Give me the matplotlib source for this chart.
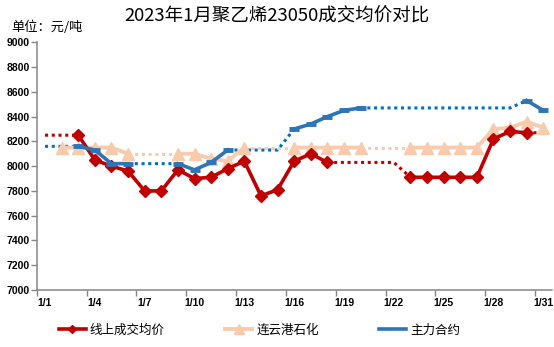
import matplotlib
matplotlib.use('Agg')
import matplotlib.pyplot as plt
import numpy as np

nan = np.nan

days = list(range(1, 32))
day_labels = ['1/%d' % d for d in days]

# 线上成交均价 (solid, markers) and its dotted gap fill
red_vals = [nan, nan, 8250, 8050, 8000, 7960, 7800, 7800, 7970, 7900,
            7910, 7980, 8040, 7760, 7810, 8040, 8100, 8030, nan, nan,
            nan, nan, 7910, 7910, 7910, 7910, 7910, 8220, 8280, 8270, nan]
red_gap = [8250, 8250, 8250, nan, nan, nan, nan, nan, nan, nan,
           nan, nan, nan, nan, nan, nan, nan, 8030, 8030, 8030,
           8030, 8030, 7910, nan, nan, nan, nan, nan, nan, 8270, 8270]

# 连云港石化
pink_vals = [nan, 8150, 8150, 8150, 8150, 8100, nan, nan, 8100, 8100,
             8060, 8040, 8150, nan, nan, 8150, 8150, 8150, 8150, 8150,
             nan, nan, 8150, 8150, 8150, 8150, 8150, 8300, 8310, 8360, 8310]
pink_gap = [nan, nan, nan, nan, nan, 8100, 8100, 8100, 8100, nan,
            nan, nan, 8150, 8150, 8150, 8150, nan, nan, nan, 8150,
            8150, 8150, 8150, nan, nan, nan, nan, nan, nan, nan, nan]

# 主力合约
blue_vals = [nan, nan, 8160, 8130, 8020, 8020, nan, nan, 8020, 7970,
             8030, 8130, nan, nan, nan, 8300, 8340, 8400, 8450, 8470,
             nan, nan, nan, nan, nan, nan, nan, nan, nan, 8530, 8450]
blue_gap = [8160, 8160, 8160, nan, nan, 8020, 8020, 8020, 8020, nan,
            nan, 8130, 8130, 8130, 8130, 8300, nan, nan, nan, 8470,
            8470, 8470, 8470, 8470, 8470, 8470, 8470, 8470, 8470, 8530, nan]

series_names = ['线上成交均价', '连云港石化', '主力合约']

RED = '#C00000'
PINK = '#F8CBAD'
BLUE = '#2E75B6'
BLUE_DOT = '#0070C0'

plt.rcParams['font.family'] = ['Noto Sans CJK SC', 'DejaVu Sans']

fig = plt.figure(figsize=(5.54, 3.47), dpi=100)
ax = fig.add_axes([0.0663, 0.1643, 0.9294, 0.7138])

x = np.array(days)
dot = (0, (1, 1.2))

# dotted gap fills underneath
ax.plot(x, pink_gap, color=PINK, lw=2.2, ls=dot, zorder=1)
ax.plot(x, red_gap, color=RED, lw=2.2, ls=dot, zorder=1)
ax.plot(x, blue_gap, color=BLUE_DOT, lw=2.2, ls=dot, zorder=1)

# solid series
l2, = ax.plot(x, pink_vals, color=PINK, lw=2.8, marker='^', ms=9,
              zorder=2, label=series_names[1])
l1, = ax.plot(x, red_vals, color=RED, lw=2.6, marker='D', ms=6,
              zorder=3, label=series_names[0])
l3, = ax.plot(x, blue_vals, color=BLUE, lw=2.6, zorder=4,
              label=series_names[2])
ax.plot(x, blue_vals, color=BLUE, lw=0, marker='_', ms=7, mew=3.5, zorder=4)

ax.set_xlim(0.5, 31.5)
ax.set_ylim(7000, 9000)
ax.set_yticks(np.arange(7000, 9001, 200))

# ticks at category boundaries, labels centred in categories
ax.set_xticks(np.arange(0.5, 31, 3))
ax.set_xticklabels([])
ax.set_xticks(x[::3], minor=True)
ax.set_xticklabels(day_labels[::3], minor=True)
ax.tick_params(axis='x', which='major', direction='out', length=4,
               width=1, color='#868686')
ax.tick_params(axis='x', which='minor', length=0, pad=6)
ax.tick_params(axis='y', direction='out', length=4, width=1,
               color='#868686', pad=1)
for lab in ax.get_xticklabels(minor=True) + ax.get_yticklabels():
    lab.set_family(['Liberation Sans', 'DejaVu Sans'])
    lab.set_fontsize(7.5)
    lab.set_fontweight('bold')

for s in ['top', 'right']:
    ax.spines[s].set_visible(False)
for s in ['left', 'bottom']:
    ax.spines[s].set_color('#868686')
    ax.spines[s].set_linewidth(1.1)

fig.text(0.5, 0.951, '2023年1月聚乙烯23050成交均价对比', ha='center',
         va='center', fontsize=13.3, fontweight='medium')
fig.text(0.02, 0.922, '单位：元/吨', ha='left', va='center', fontsize=9.5)

fig.legend(handles=[l1, l2, l3], loc='center', ncol=3,
           bbox_to_anchor=(0.468, 0.049), frameon=False, fontsize=9,
           markerscale=0.75, handlelength=2.2, handletextpad=0.3,
           columnspacing=4.8)

fig.savefig('out.png', dpi=100)
